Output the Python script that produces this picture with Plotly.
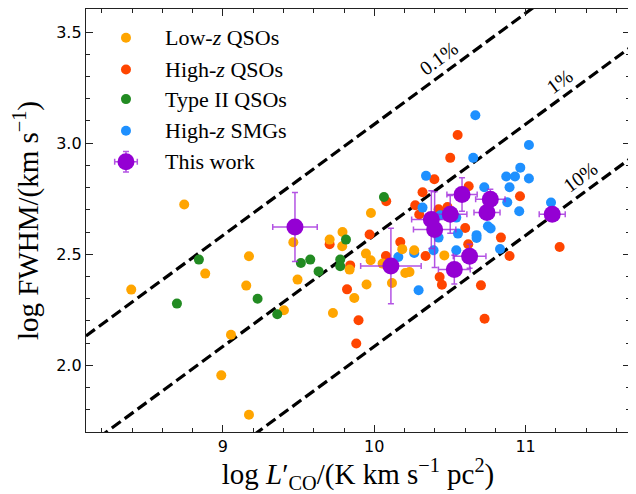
import plotly.graph_objects as go

# ---------------- data ----------------
lowz_x = [8.394, 8.744, 8.883, 8.989, 9.053, 9.154, 9.172, 9.172, 9.403, 9.465, 9.493,
          9.705, 9.727, 9.790, 9.788, 9.837, 9.868, 9.978, 9.945, 9.976, 10.055, 10.117,
          9.949, 10.185, 10.205, 10.233, 10.264, 10.463]
lowz_y = [2.341, 2.724, 2.413, 1.955, 2.138, 2.359, 2.491, 1.778, 2.248, 2.554, 2.386,
          2.566, 2.236, 2.600, 2.536, 2.431, 2.303, 2.686, 2.503, 2.473, 2.458, 2.371,
          2.364, 2.523, 2.416, 2.420, 2.518, 2.495]

highz_x = [9.705, 9.841, 9.820, 9.896, 9.881, 9.969, 10.077, 10.079, 10.172, 10.271,
           10.297, 10.319, 10.339, 10.397, 10.425, 10.432, 10.447, 10.484, 10.502, 10.551,
           10.601, 10.621, 10.624, 10.705, 10.729, 10.837, 10.894, 10.963, 11.225]
highz_y = [2.545, 2.450, 2.342, 2.203, 2.098, 2.589, 2.492, 2.739, 2.555, 2.721,
           2.679, 2.779, 2.492, 2.838, 2.703, 2.398, 2.363, 2.713, 2.934, 3.037,
           2.618, 2.545, 2.806, 2.360, 2.210, 2.575, 2.492, 2.761, 2.533]

type2_x = [8.696, 8.841, 9.229, 9.359, 9.515, 9.577, 9.632, 9.775, 9.775, 9.813, 10.064]
type2_y = [2.278, 2.476, 2.300, 2.230, 2.461, 2.476, 2.423, 2.476, 2.446, 2.566, 2.758]

smg_x = [10.159, 10.264, 10.293, 10.319, 10.342, 10.392, 10.425, 10.436, 10.542, 10.542,
         10.553, 10.654, 10.668, 10.676, 10.676, 10.727, 10.751, 10.769, 10.831, 10.872,
         10.879, 10.894, 10.930, 10.958, 10.965, 11.022, 11.022, 11.168]
smg_y = [2.488, 2.506, 2.338, 2.710, 2.853, 2.518, 2.575, 2.676, 2.665, 2.518,
         2.593, 2.934, 3.126, 2.586, 2.573, 2.802, 2.626, 2.616, 2.524, 2.850,
         2.734, 2.802, 2.850, 2.694, 2.890, 2.992, 2.841, 2.733]

work_x = [9.476, 10.110, 10.377, 10.399, 10.502, 10.529, 10.580, 10.630, 10.745, 10.767, 11.176]
work_y = [2.623, 2.447, 2.656, 2.611, 2.680, 2.431, 2.769, 2.491, 2.688, 2.748, 2.680]
work_xerr = [0.147, 0.200, 0.130, 0.140, 0.110, 0.105, 0.100, 0.108, 0.086, 0.097, 0.086]
work_yerr = [0.155, 0.170, 0.130, 0.170, 0.085, 0.065, 0.075, 0.054, 0.030, 0.045, 0.020]

# gas-fraction lines: log FWHM = 0.5 log L' + c
frac_labels = ["0.1%", "1%", "10%"]
frac_offsets = [-1.915, -2.415, -2.915]
frac_label_x = [10.441, 11.240, 11.373]

XR = [8.095, 11.69]
YR = [1.70, 3.604]

C_LOW = "#FFA500"
C_HIGH = "#FF4500"
C_T2 = "#228B22"
C_SMG = "#1E90FF"
C_WORK = "#9400D3"
C_ERR = "rgba(160,40,220,0.8)"

SERIF = "Liberation Serif"
SANS = "DejaVu Sans"

fig = go.Figure()

# dashed lines
for c in frac_offsets:
    xs = [XR[0], XR[1]]
    ys = [0.5 * xv + c for xv in xs]
    fig.add_trace(go.Scatter(x=xs, y=ys, mode="lines",
                             line=dict(color="black", width=3.2, dash="11px,5px"),
                             showlegend=False, hoverinfo="skip"))

def pts(x, y, col):
    fig.add_trace(go.Scatter(x=x, y=y, mode="markers",
                             marker=dict(color=col, size=10, line=dict(width=0)),
                             showlegend=False))

pts(highz_x, highz_y, C_HIGH)
pts(smg_x, smg_y, C_SMG)
pts(lowz_x, lowz_y, C_LOW)
pts(type2_x, type2_y, C_T2)

fig.add_trace(go.Scatter(
    x=work_x, y=work_y, mode="markers",
    marker=dict(color=C_WORK, size=17, line=dict(width=0)),
    error_x=dict(type="data", array=work_xerr, color=C_ERR, thickness=1.5, width=3),
    error_y=dict(type="data", array=work_yerr, color=C_ERR, thickness=1.5, width=3),
    showlegend=False))

# line labels
for lab, c, lx in zip(frac_labels, frac_offsets, frac_label_x):
    fig.add_annotation(x=lx, y=0.5 * lx + c, text=lab, showarrow=False,
                       textangle=-36.3, yshift=17, xshift=-2,
                       font=dict(family=SERIF, size=20, color="black"))

# manual legend (overlay axes in plot-fraction units)
leg_names = ["Low-<i>z</i> QSOs", "High-<i>z</i> QSOs", "Type II QSOs",
             "High-<i>z</i> SMGs", "This work"]
leg_cols = [C_LOW, C_HIGH, C_T2, C_SMG, C_WORK]
leg_rows = [0.932, 0.857, 0.787, 0.712, 0.639]
mx, tx = 0.0735, 0.1415
for i, (nm, col, ry) in enumerate(zip(leg_names, leg_cols, leg_rows)):
    if i < 4:
        fig.add_trace(go.Scatter(x=[mx], y=[ry], mode="markers", xaxis="x2", yaxis="y2",
                                 marker=dict(color=col, size=10), showlegend=False,
                                 hoverinfo="skip"))
    else:
        fig.add_trace(go.Scatter(x=[mx], y=[ry], mode="markers", xaxis="x2", yaxis="y2",
                                 marker=dict(color=col, size=17), showlegend=False,
                                 error_x=dict(type="data", array=[0.0208], color=C_ERR,
                                              thickness=1.5, width=3),
                                 error_y=dict(type="data", array=[0.0244], color=C_ERR,
                                              thickness=1.5, width=3),
                                 hoverinfo="skip"))
    fig.add_annotation(xref="paper", yref="paper", x=tx, y=ry, text=nm,
                       showarrow=False, xanchor="left", yanchor="middle",
                       font=dict(family=SERIF, size=22, color="black"))

axis_common = dict(showline=True, linecolor="#222", linewidth=1.3, mirror="allticks",
                   ticks="inside", ticklen=7, tickwidth=1, tickcolor="#222",
                   showgrid=False, zeroline=False, automargin=False,
                   tickfont=dict(family=SANS, size=16, color="black"))

# the page body adds an 8px offset, so the figure is 8px smaller than the window
fig.update_layout(
    width=628, height=486,
    margin=dict(l=78, r=6, t=1, b=62),
    plot_bgcolor="white", paper_bgcolor="white",
    showlegend=False,
    xaxis=dict(range=XR, tickvals=[9, 10, 11], ticktext=["9", "10", "11"],
               minor=dict(dtick=0.2, tick0=0, ticks="inside", ticklen=4, tickcolor="#222"),
               title=dict(text="log <i>L</i>′<sub>CO</sub>/(K km s<sup>−1</sup> pc<sup>2</sup>)",
                          font=dict(family=SERIF, size=29, color="black"), standoff=2),
               **axis_common),
    yaxis=dict(range=YR, tickvals=[2.0, 2.5, 3.0, 3.5], ticktext=["2.0", "2.5", "3.0", "3.5"],
               minor=dict(dtick=0.1, tick0=0, ticks="inside", ticklen=4, tickcolor="#222"),
               title=dict(text="log FWHM/(km s<sup>−1</sup>)",
                          font=dict(family=SERIF, size=29, color="black"), standoff=9),
               **axis_common),
    xaxis2=dict(range=[0, 1], overlaying="x", visible=False),
    yaxis2=dict(range=[0, 1], overlaying="y", visible=False),
)

fig.write_html("out.html")
